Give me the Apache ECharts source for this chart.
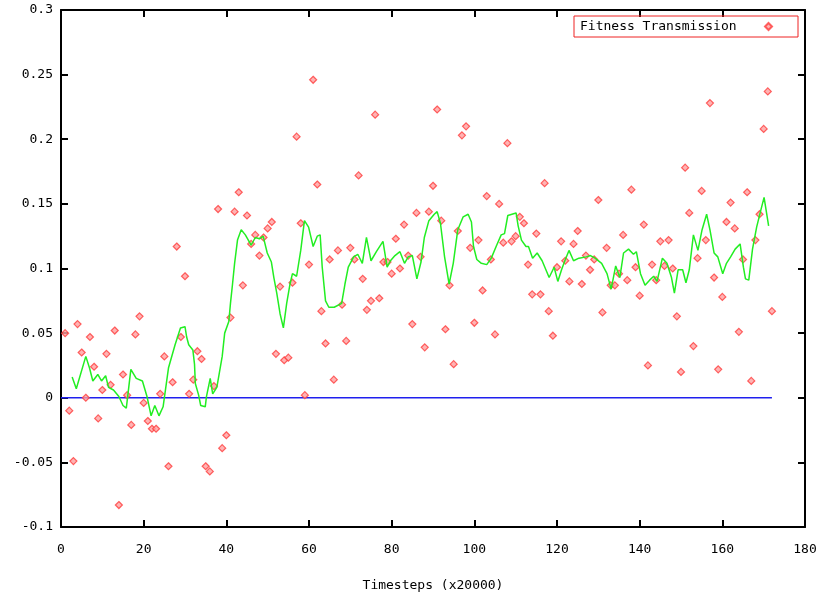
<!DOCTYPE html>
<html>
<head>
<meta charset="utf-8">
<style>
  html, body { margin: 0; padding: 0; background: #fff; }
  #main { width: 824px; height: 599px; }
</style>
<script src="https://cdn.jsdelivr.net/npm/echarts@6/dist/echarts.min.js"></script>
</head>
<body>
<div id="main"></div>
<script>
// scatter: fitness transmission per timestep
const pointX = []
for (let i = 1; i <= 172; i++) pointX.push(i)
const pointY = [
  0.050, -0.010, -0.049, 0.057, 0.035, 0.000, 0.047, 0.024, -0.016, 0.006,
  0.034, 0.010, 0.052, -0.083, 0.018, 0.002, -0.021, 0.049, 0.063, -0.004,
  -0.018, -0.024, -0.024, 0.003, 0.032, -0.053, 0.012, 0.117, 0.047, 0.094,
  0.003, 0.014, 0.036, 0.030, -0.053, -0.057, 0.009, 0.146, -0.039, -0.029,
  0.062, 0.144, 0.159, 0.087, 0.141, 0.119, 0.126, 0.110, 0.124, 0.131,
  0.136, 0.034, 0.086, 0.029, 0.031, 0.089, 0.202, 0.135, 0.002, 0.103,
  0.246, 0.165, 0.067, 0.042, 0.107, 0.014, 0.114, 0.072, 0.044, 0.116,
  0.107, 0.172, 0.092, 0.068, 0.075, 0.219, 0.077, 0.105, 0.105, 0.096,
  0.123, 0.100, 0.134, 0.110, 0.057, 0.143, 0.109, 0.039, 0.144, 0.164,
  0.223, 0.137, 0.053, 0.087, 0.026, 0.129, 0.203, 0.210, 0.116, 0.058,
  0.122, 0.083, 0.156, 0.107, 0.049, 0.150, 0.120, 0.197, 0.121, 0.125,
  0.140, 0.135, 0.103, 0.080, 0.127, 0.080, 0.166, 0.067, 0.048, 0.101,
  0.121, 0.106, 0.090, 0.119, 0.129, 0.088, 0.110, 0.099, 0.107, 0.153,
  0.066, 0.116, 0.087, 0.087, 0.096, 0.126, 0.091, 0.161, 0.101, 0.079,
  0.134, 0.025, 0.103, 0.091, 0.121, 0.102, 0.122, 0.100, 0.063, 0.020,
  0.178, 0.143, 0.040, 0.108, 0.160, 0.122, 0.228, 0.093, 0.022, 0.078,
  0.136, 0.151, 0.131, 0.051, 0.107, 0.159, 0.013, 0.122, 0.142, 0.208,
  0.237, 0.067
]

// smoothed curve (green)
const smoothX = [
  2.7, 3.7, 6.0, 6.9, 7.7, 8.9, 9.8, 10.8, 11.5, 12.7, 14.0, 15.0, 15.8, 16.9, 18.2, 19.7,
  20.8, 21.8, 22.7, 23.7, 24.7, 26.0, 27.6, 28.9, 30.0, 30.4, 30.9, 31.9, 32.3, 32.5, 33.3,
  33.8, 34.9, 35.2, 36.1, 36.7, 37.7, 38.3, 39.0, 39.6, 40.6, 41.0, 41.5, 42.0, 42.7, 43.6,
  44.6, 46.0, 47.0, 48.0, 48.9, 49.9, 50.9, 51.5, 52.2, 53.0, 53.8, 54.6, 55.4, 56.0, 57.0,
  58.0, 58.9, 59.9, 61.0, 62.0, 62.7, 63.2, 64.0, 64.8, 66.1, 67.9, 68.7, 69.5, 70.8, 71.8,
  72.9, 73.9, 75.0, 76.3, 77.9, 78.9, 79.7, 80.8, 82.0, 83.1, 84.0, 85.0, 86.1, 87.1, 87.9,
  89.0, 90.3, 91.0, 91.8, 92.8, 93.9, 94.9, 96.0, 97.3, 98.5, 99.3, 99.8, 100.6, 101.7, 103.0,
  104.1, 105.4, 106.5, 107.3, 108.1, 109.1, 110.1, 110.6, 111.4, 112.5, 113.1, 114.1, 115.2,
  116.4, 118.1, 119.3, 120.2, 121.1, 121.9, 122.9, 124.0, 125.3, 127.1, 128.1, 129.2, 130.8,
  132.1, 133.1, 134.2, 135.2, 136.1, 137.3, 138.5, 139.2, 140.2, 141.3, 142.4, 143.4, 144.2,
  145.5, 146.6, 147.7, 148.4, 149.3, 150.4, 151.2, 152.0, 153.0, 154.1, 155.1, 156.2, 157.0,
  158.0, 158.9, 160.1, 161.0, 162.0, 163.1, 164.3, 165.1, 165.6, 166.4, 167.3, 168.3, 169.3,
  170.1, 170.6, 171.2
]
const smoothY = [
  0.016, 0.007, 0.032, 0.023, 0.013, 0.018, 0.013, 0.017, 0.008, 0.006, 0.001, -0.006, -0.008, 0.022, 0.015, 0.013,
  0.001, -0.014, -0.006, -0.014, -0.007, 0.023, 0.041, 0.054, 0.055, 0.047, 0.041, 0.037, 0.026, 0.011, 0.002,
  -0.006, -0.007, 0.001, 0.015, 0.003, 0.008, 0.019, 0.032, 0.050, 0.059, 0.073, 0.088, 0.104, 0.122, 0.130,
  0.126, 0.118, 0.124, 0.123, 0.125, 0.112, 0.105, 0.093, 0.081, 0.065, 0.054, 0.073, 0.088, 0.096, 0.094,
  0.114, 0.137, 0.132, 0.117, 0.125, 0.126, 0.101, 0.075, 0.070, 0.070, 0.073, 0.088, 0.101, 0.109, 0.111,
  0.104, 0.124, 0.106, 0.113, 0.121, 0.101, 0.106, 0.110, 0.113, 0.104, 0.109, 0.110, 0.092, 0.105, 0.124,
  0.137, 0.142, 0.144, 0.135, 0.109, 0.088, 0.104, 0.130, 0.140, 0.142, 0.136, 0.117, 0.107, 0.104, 0.103,
  0.108, 0.118, 0.126, 0.127, 0.141, 0.142, 0.143, 0.133, 0.122, 0.117, 0.117, 0.108, 0.112,
  0.106, 0.093, 0.101, 0.090, 0.099, 0.106, 0.114, 0.106, 0.108, 0.109, 0.110, 0.108, 0.104,
  0.096, 0.084, 0.102, 0.093, 0.112, 0.115, 0.111, 0.113, 0.096, 0.087, 0.091, 0.094, 0.090,
  0.108, 0.104, 0.093, 0.081, 0.099, 0.099, 0.089, 0.099, 0.126, 0.114, 0.130, 0.142, 0.130,
  0.112, 0.109, 0.096, 0.104, 0.109, 0.115, 0.119, 0.101, 0.092, 0.091, 0.115, 0.132, 0.145,
  0.155, 0.145, 0.133
]

// zero reference (blue)
const zeroX = [0, 172]
const zeroY = [0, 0]

const xTicks = { min: 0, max: 180, step: 20 }
const yTicks = { min: -0.1, max: 0.3, step: 0.05 }

const zip = (xs, ys) => xs.map((x, i) => [x, ys[i]])
const mono = 'DejaVu Sans Mono'

const axisBase = {
  type: 'value',
  axisLine: { show: true, onZero: false, lineStyle: { color: '#000', width: 2 } },
  axisTick: { show: true, inside: true, length: 7, lineStyle: { color: '#000', width: 2 } },
  splitLine: { show: false }
}

const myChart = echarts.init(document.getElementById('main'))
const option = {
  animation: false,
  backgroundColor: '#fff',
  grid: { left: 61, right: 19, top: 10, bottom: 72 },
  legend: {
    left: 574,
    top: 16,
    align: 'right',
    orient: 'horizontal',
    data: [{ name: 'Fitness Transmission', icon: 'diamond' }],
    itemWidth: 7,
    itemHeight: 7,
    padding: [4, 25, 4, 6],
    borderColor: '#ee2222',
    borderWidth: 1,
    borderRadius: 0,
    formatter: name => name + '   ',
    textStyle: { fontFamily: mono, fontSize: 13, color: '#000' }
  },
  xAxis: [
    Object.assign({}, axisBase, {
      position: 'bottom',
      min: xTicks.min, max: xTicks.max, interval: xTicks.step,
      name: 'Timesteps (x20000)',
      nameLocation: 'middle',
      nameGap: 52,
      nameTextStyle: { fontFamily: mono, fontSize: 13, color: '#000' },
      axisLabel: { fontFamily: mono, fontSize: 13, color: '#000', margin: 16 }
    }),
    Object.assign({}, axisBase, {
      position: 'top',
      min: xTicks.min, max: xTicks.max, interval: xTicks.step,
      axisLabel: { show: false }
    })
  ],
  yAxis: [
    Object.assign({}, axisBase, {
      position: 'left',
      min: yTicks.min, max: yTicks.max, interval: yTicks.step,
      axisLabel: {
        fontFamily: mono, fontSize: 13, color: '#000', margin: 8,
        formatter: v => String(+v.toFixed(2))
      }
    }),
    Object.assign({}, axisBase, {
      position: 'right',
      min: yTicks.min, max: yTicks.max, interval: yTicks.step,
      axisLabel: { show: false }
    })
  ],
  series: [
    {
      name: 'zero',
      type: 'line',
      data: zip(zeroX, zeroY),
      symbol: 'none',
      lineStyle: { color: '#2020ee', width: 1.5 },
      z: 1
    },
    {
      name: 'Fitness Transmission',
      type: 'scatter',
      data: zip(pointX, pointY),
      symbol: 'diamond',
      symbolSize: 7,
      itemStyle: { color: '#ffa0a0', borderColor: '#ff3c3c', borderWidth: 1.2 },
      z: 2
    },
    {
      name: 'smoothed',
      type: 'line',
      data: zip(smoothX, smoothY),
      symbol: 'none',
      lineStyle: { color: '#22ee22', width: 1.5 },
      z: 3
    }
  ]
}
myChart.setOption(option)
</script>
</body>
</html>
